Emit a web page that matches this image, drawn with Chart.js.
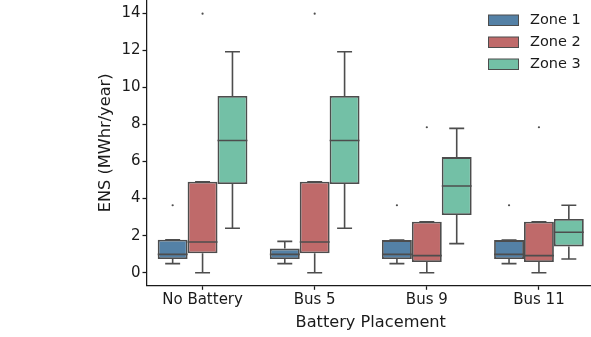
<!DOCTYPE html>
<html>
<head>
<meta charset="utf-8">
<script src="https://cdn.jsdelivr.net/npm/chart.js@4.4.1/dist/chart.umd.min.js"></script>
<style>
  html, body { margin: 0; padding: 0; overflow: hidden; background: #fff; }
  #wrap { width: 595px; height: 337px; }
</style>
</head>
<body>
<div id="wrap"><canvas id="chart-ens" width="595" height="337"></canvas></div>
<script>
const categories = ["No Battery", "Bus 5", "Bus 9", "Bus 11"]
const zones = ["Zone 1", "Zone 2", "Zone 3"]
const zoneColors = ["#5481a6", "#bf6a6a", "#73c0a6"]
const yTicks = [0, 2, 4, 6, 8, 10, 12, 14]

// box stats, one value per category
const q1Zone1 = [0.74, 0.74, 0.74, 0.74]
const medZone1 = [0.99, 0.99, 0.99, 0.99]
const q3Zone1 = [1.78, 1.30, 1.76, 1.76]
const loZone1 = [0.49, 0.49, 0.49, 0.49]
const hiZone1 = [1.78, 1.69, 1.76, 1.76]
const fliersZone1 = [[3.64], [], [3.64], [3.64]]

const q1Zone2 = [1.05, 1.05, 0.58, 0.58]
const medZone2 = [1.66, 1.66, 0.92, 0.92]
const q3Zone2 = [4.91, 4.91, 2.75, 2.75]
const loZone2 = [0.0, 0.0, 0.0, 0.0]
const hiZone2 = [4.91, 4.91, 2.75, 2.75]
const fliersZone2 = [[13.98], [13.98], [7.85], [7.85]]

const q1Zone3 = [4.79, 4.79, 3.11, 1.42]
const medZone3 = [7.14, 7.14, 4.68, 2.18]
const q3Zone3 = [9.54, 9.54, 6.24, 2.90]
const loZone3 = [2.40, 2.40, 1.57, 0.74]
const hiZone3 = [11.93, 11.93, 7.79, 3.64]
const fliersZone3 = [[], [], [], []]

const zoneStats = [
  { q1: q1Zone1, med: medZone1, q3: q3Zone1, lo: loZone1, hi: hiZone1, fliers: fliersZone1 },
  { q1: q1Zone2, med: medZone2, q3: q3Zone2, lo: loZone2, hi: hiZone2, fliers: fliersZone2 },
  { q1: q1Zone3, med: medZone3, q3: q3Zone3, lo: loZone3, hi: hiZone3, fliers: fliersZone3 }
]

const lineColor = "#4d4d4d"
const axisColor = "#1a1a1a"
const textColor = "#1a1a1a"
const fontFamily = "'DejaVu Sans', sans-serif"

// whiskers, caps, medians, fliers on top of the floating bars
const boxPlugin = {
  id: "boxWhiskers",
  afterDatasetsDraw(chart) {
    const ctx = chart.ctx
    const y = chart.scales.y
    ctx.save()
    ctx.strokeStyle = lineColor
    ctx.fillStyle = lineColor
    ctx.lineWidth = 1.6
    ctx.lineCap = "butt"
    zoneStats.forEach((s, i) => {
      chart.getDatasetMeta(i).data.forEach((bar, j) => {
        const x = bar.x
        const half = bar.width / 2
        const cap = bar.width / 4
        const yq1 = y.getPixelForValue(s.q1[j])
        const yq3 = y.getPixelForValue(s.q3[j])
        const ylo = y.getPixelForValue(s.lo[j])
        const yhi = y.getPixelForValue(s.hi[j])
        const ymed = y.getPixelForValue(s.med[j])
        ctx.beginPath()
        ctx.moveTo(x, yq1); ctx.lineTo(x, ylo)
        ctx.moveTo(x - cap, ylo); ctx.lineTo(x + cap, ylo)
        ctx.moveTo(x, yq3); ctx.lineTo(x, yhi)
        ctx.moveTo(x - cap, yhi); ctx.lineTo(x + cap, yhi)
        ctx.moveTo(x - half, ymed); ctx.lineTo(x + half, ymed)
        ctx.stroke()
        s.fliers[j].forEach(v => {
          ctx.beginPath()
          ctx.arc(x, y.getPixelForValue(v), 1.1, 0, Math.PI * 2)
          ctx.fill()
        })
      })
    })
    ctx.restore()
  },
  afterDraw(chart) {
    const ctx = chart.ctx
    ctx.save()
    ctx.font = "14.5px " + fontFamily
    ctx.textBaseline = "middle"
    ctx.textAlign = "left"
    zones.forEach((z, i) => {
      const top = 15 + i * 22
      ctx.fillStyle = zoneColors[i]
      ctx.fillRect(488.5, top, 30, 10.5)
      ctx.strokeStyle = lineColor
      ctx.lineWidth = 1
      ctx.strokeRect(488.5, top, 30, 10.5)
      ctx.fillStyle = textColor
      ctx.fillText(z, 530, top + 5.5)
    })
    ctx.restore()
  }
}

new Chart(document.getElementById("chart-ens"), {
  type: "bar",
  data: {
    labels: categories,
    datasets: zoneStats.map((s, i) => ({
      label: zones[i],
      data: s.q1.map((v, j) => [v, s.q3[j]]),
      backgroundColor: zoneColors[i],
      borderColor: lineColor,
      borderWidth: 1.8,
      borderSkipped: false,
      categoryPercentage: 0.8,
      barPercentage: 1.0
    }))
  },
  options: {
    responsive: false,
    animation: false,
    layout: { padding: 0 },
    plugins: {
      legend: { display: false },
      tooltip: { enabled: false }
    },
    scales: {
      x: {
        offset: true,
        grid: { display: true, drawOnChartArea: false, drawTicks: true, tickLength: 4, tickColor: axisColor, tickWidth: 1.25, offset: false },
        border: { display: true, color: axisColor, width: 1.25 },
        ticks: { color: textColor, font: { family: fontFamily, size: 15 }, padding: 1, maxRotation: 0 },
        title: { display: true, text: "Battery Placement", color: textColor, font: { family: fontFamily, size: 16.2 }, padding: { top: 0, bottom: 4 } },
        afterFit(scale) {
          scale.height = 51.2
          scale.paddingLeft = 0
          scale.paddingRight = 0
        }
      },
      y: {
        min: -0.707,
        max: 14.72,
        afterBuildTicks(scale) {
          scale.ticks = yTicks.map(v => ({ value: v }))
        },
        grid: { display: true, drawOnChartArea: false, drawTicks: true, tickLength: 4, tickColor: axisColor, tickWidth: 1.25 },
        border: { display: true, color: axisColor, width: 1.25 },
        ticks: { color: textColor, font: { family: fontFamily, size: 15 }, padding: 2 },
        title: { display: true, text: "ENS (MWhr/year)", color: textColor, font: { family: fontFamily, size: 16.2 }, padding: { top: 96, bottom: 0 } },
        afterFit(scale) {
          scale.width = 146.5
          scale.paddingTop = 0
          scale.paddingBottom = 0
        }
      }
    }
  },
  plugins: [boxPlugin]
})
</script>
</body>
</html>
